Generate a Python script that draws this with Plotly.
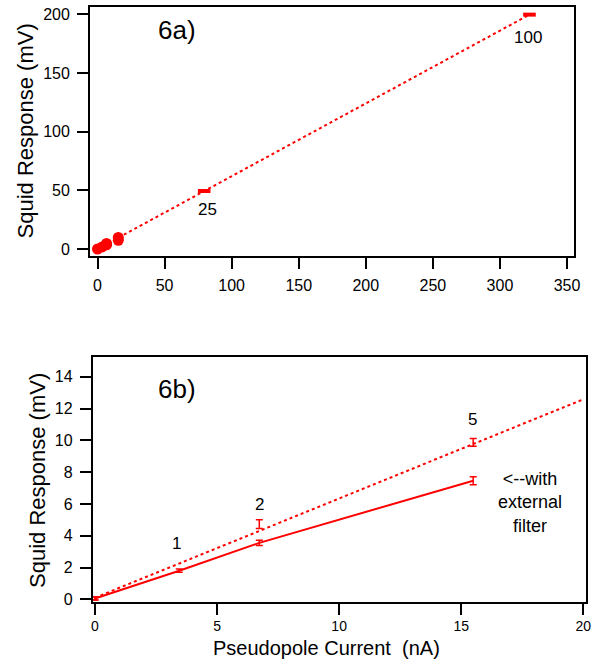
import plotly.graph_objects as go

# ---- Panel 6a data ----
a_x = [0, 3.45, 6.73, 6.73, 15.49, 15.49]
a_y = [0, 1.8, 4.73, 3.53, 9.87, 7.46]
a_big_x = [79.5, 322]
a_big_y = [49.4, 199.7]
a_fit_x = [0, 322]
a_fit_y = [0, 199.7]
a_labels = ["25", "100"]
a_label_x = [81.7, 321]
a_label_y = [34, 180]

# ---- Panel 6b data ----
b_dot_x = [0, 6.73, 15.49]
b_dot_y = [0.05, 4.73, 9.87]
b_dot_err = [0.1, 0.27, 0.25]
b_fit_x = [0, 20]
b_fit_y = [0.1, 12.58]
b_sol_x = [0, 3.45, 6.73, 15.49]
b_sol_y = [0.05, 1.8, 3.55, 7.46]
b_sol_err = [0.1, 0.1, 0.16, 0.25]
b_labels = ["1", "2", "5"]
b_label_x = [3.35, 6.73, 15.45]
b_label_y = [3.49, 5.94, 11.28]

a_xticks = [0, 50, 100, 150, 200, 250, 300, 350]
a_yticks = [0, 50, 100, 150, 200]
b_xticks = [0, 5, 10, 15, 20]
b_yticks = [0, 2, 4, 6, 8, 10, 12, 14]

y_title = "Squid Response (mV)"
x_title = "Pseudopole Current \u00a0(nA)"

RED = "#ff0000"
FONT = "Liberation Sans, Arial, sans-serif"

fig = go.Figure()

# Panel a
fig.add_trace(go.Scatter(x=a_fit_x, y=a_fit_y, mode="lines",
                         line=dict(color=RED, width=2, dash="dot"),
                         xaxis="x", yaxis="y", showlegend=False))
fig.add_trace(go.Scatter(x=a_x, y=a_y, mode="markers",
                         marker=dict(color=RED, size=11, symbol="circle"),
                         xaxis="x", yaxis="y", showlegend=False))
fig.add_trace(go.Scatter(x=a_big_x, y=a_big_y, mode="markers",
                         marker=dict(color=RED, size=9, symbol="line-ew",
                                     line=dict(color=RED, width=4)),
                         xaxis="x", yaxis="y", showlegend=False))

# Panel b
fig.add_trace(go.Scatter(x=b_fit_x, y=b_fit_y, mode="lines",
                         line=dict(color=RED, width=2, dash="dot"),
                         xaxis="x2", yaxis="y2", showlegend=False))
fig.add_trace(go.Scatter(x=b_dot_x, y=b_dot_y, mode="markers",
                         marker=dict(color=RED, size=1),
                         error_y=dict(type="data", array=b_dot_err, visible=True,
                                      color=RED, thickness=1.5, width=3.5),
                         xaxis="x2", yaxis="y2", showlegend=False))
fig.add_trace(go.Scatter(x=b_sol_x, y=b_sol_y, mode="lines",
                         line=dict(color=RED, width=2),
                         error_y=dict(type="data", array=b_sol_err, visible=True,
                                      color=RED, thickness=1.5, width=3.5),
                         xaxis="x2", yaxis="y2", showlegend=False))

ann = []
for t, x, y in zip(a_labels, a_label_x, a_label_y):
    ann.append(dict(text=t, x=x, y=y, xref="x", yref="y", showarrow=False,
                    font=dict(size=17, color="black", family=FONT)))
for t, x, y in zip(b_labels, b_label_x, b_label_y):
    ann.append(dict(text=t, x=x, y=y, xref="x2", yref="y2", showarrow=False,
                    font=dict(size=17, color="black", family=FONT)))
ann.append(dict(text="6a)", x=59.3, y=186.6, xref="x", yref="y", showarrow=False,
                font=dict(size=26, color="black", family=FONT)))
ann.append(dict(text="6b)", x=3.35, y=13.2, xref="x2", yref="y2", showarrow=False,
                font=dict(size=26, color="black", family=FONT)))
ann.append(dict(text="<--with<br>external<br>filter", x=17.81, y=6.12,
                xref="x2", yref="y2", showarrow=False, align="center",
                font=dict(size=18, color="black", family=FONT)))
# axis titles placed as paper annotations
ann.append(dict(text=y_title, x=25/602, y=1-131.5/660, xref="paper", yref="paper",
                xanchor="center", yanchor="middle", textangle=-90, showarrow=False,
                font=dict(size=22, color="black", family=FONT)))
ann.append(dict(text=y_title, x=37/602, y=1-481/660, xref="paper", yref="paper",
                xanchor="center", yanchor="middle", textangle=-90, showarrow=False,
                font=dict(size=22, color="black", family=FONT)))
ann.append(dict(text=x_title, x=326/602, y=1-648/660, xref="paper", yref="paper",
                xanchor="center", yanchor="middle", showarrow=False,
                font=dict(size=20, color="black", family=FONT)))

axis_common = dict(showline=True, linecolor="black", linewidth=1.8, mirror=True,
                   ticks="outside", ticklen=11, tickwidth=1.5, tickcolor="black",
                   showgrid=False, zeroline=False, automargin=False)
tf16 = dict(size=16, color="black", family=FONT)
tf14 = dict(size=14, color="black", family=FONT)

fig.update_layout(
    width=602, height=660,
    margin=dict(l=0, r=0, t=0, b=0),
    paper_bgcolor="white", plot_bgcolor="white",
    font=dict(family=FONT, color="black"),
    annotations=ann,
    xaxis=dict(domain=[90/602, 574/602], range=[-5.6, 355.2], tickfont=tf16,
               tickvals=a_xticks, anchor="y", ticklabelstandoff=3, **axis_common),
    yaxis=dict(domain=[1-256/660, 1-7/660], range=[-5.96, 206.2], tickfont=tf16,
               tickvals=a_yticks, anchor="x", ticklabelstandoff=4, **axis_common),
    xaxis2=dict(domain=[92.7/602, 585.7/602], range=[-0.094, 20.098], tickfont=tf14,
                tickvals=b_xticks, anchor="y2", ticklabelstandoff=0, **axis_common),
    yaxis2=dict(domain=[1-601.7/660, 1-357/660], range=[-0.151, 15.24], tickfont=tf16,
                tickvals=b_yticks, anchor="x2", ticklabelstandoff=4, **axis_common),
)

fig.write_html("out.html", config={"displayModeBar": False},
               post_script="document.body.style.margin='0';document.body.style.overflow='hidden';")
